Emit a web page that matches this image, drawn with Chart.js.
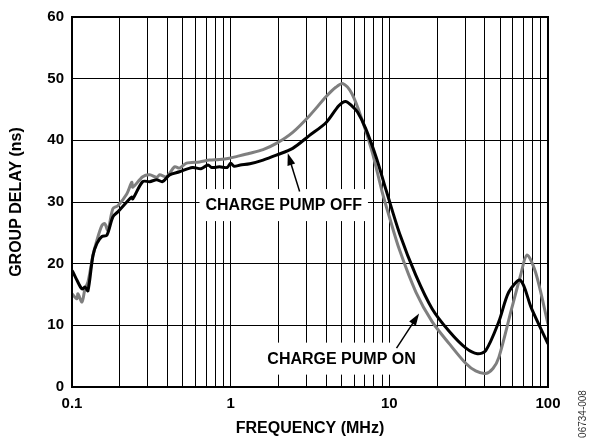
<!DOCTYPE html>
<html>
<head>
<meta charset="utf-8">
<script src="https://cdn.jsdelivr.net/npm/chart.js@4.4.0/dist/chart.umd.min.js"></script>
<style>
  html, body { margin: 0; padding: 0; background: #fff; }
  #wrap { width: 598px; height: 443px; position: relative; }
</style>
</head>
<body>
<div id="wrap"><canvas id="delayChart"></canvas></div>
<script>
// charge pump off (black trace)
var offFreq = [0.1, 0.1015, 0.1075, 0.1156, 0.121, 0.126, 0.1355, 0.1436, 0.1544, 0.1658, 0.181, 0.1945, 0.2214, 0.238, 0.2416, 0.279, 0.309, 0.342, 0.372, 0.412, 0.476, 0.575, 0.65, 0.72, 0.76, 0.85, 0.95, 1.0, 1.05, 1.15, 1.32, 1.6, 1.94, 2.46, 3.14, 4.0, 4.8, 5.3, 5.8, 6.3, 7.1, 8.3, 9.6, 11.6, 14.7, 18.6, 23.9, 30.4, 35.9, 40.5, 49, 56.6, 67, 78.8, 100];
var offDelay = [18.9, 18.6, 17.3, 15.9, 16.2, 15.6, 21.3, 23.3, 24.4, 24.6, 27.6, 28.4, 30.0, 30.8, 30.5, 33.3, 33.3, 33.6, 33.3, 34.4, 34.9, 35.6, 35.4, 36.0, 35.6, 35.7, 35.6, 36.3, 35.8, 36.0, 36.2, 36.8, 37.6, 38.7, 40.8, 42.9, 45.6, 46.3, 45.6, 44.6, 41.9, 37.1, 31.7, 24.9, 18.1, 12.7, 9.0, 6.3, 5.4, 5.9, 10.6, 15.4, 17.3, 12.7, 7.0];

// charge pump on (gray trace)
var onFreq = [0.1, 0.1075, 0.109, 0.1156, 0.1207, 0.126, 0.1355, 0.1436, 0.1544, 0.161, 0.1684, 0.181, 0.1945, 0.2214, 0.238, 0.2416, 0.279, 0.309, 0.342, 0.357, 0.395, 0.443, 0.476, 0.527, 0.636, 0.737, 0.85, 0.98, 1.1, 1.32, 1.6, 1.94, 2.46, 3.14, 4.0, 4.6, 5.1, 5.8, 6.7, 7.8, 9.0, 10.0, 11.6, 14.7, 18.6, 23.9, 30.4, 35, 40.5, 45, 49, 59, 67, 73.7, 83.5, 100];
var onDelay = [15.1, 14.3, 15.1, 13.8, 15.9, 17.0, 21.3, 23.8, 26.2, 26.5, 25.4, 28.9, 29.4, 31.3, 33.2, 32.4, 34.1, 34.4, 34.0, 34.4, 34.1, 35.7, 35.5, 36.3, 36.5, 36.8, 36.9, 37.1, 37.4, 37.9, 38.5, 39.5, 41.3, 44.0, 47.1, 48.6, 49.2, 47.6, 43.5, 38.1, 31.7, 27.6, 22.2, 15.4, 10.6, 7.0, 3.8, 2.6, 2.2, 3.0, 4.8, 12.7, 18.0, 21.4, 18.6, 10.2];

var xGrid = [0.1, 0.2, 0.3, 0.4, 0.5, 0.6, 0.7, 0.8, 0.9, 1, 2, 3, 4, 5, 6, 7, 8, 9, 10, 20, 30, 40, 50, 60, 70, 80, 90, 100];
var xLabels = [0.1, 1, 10, 100];

// annotation labels: [text, freq, delay]
var notes = [
  ['CHARGE PUMP OFF', 2.16, 29.5],
  ['CHARGE PUMP ON', 5.0, 4.6]
];
// arrows: [fromFreq, fromDelay, toFreq, toDelay]
var arrows = [
  [2.72, 31.7, 2.29, 37.9],
  [11.1, 6.3, 15.4, 11.9]
];

var FONT = 'Arial, "Liberation Sans", sans-serif';

function toPoints(xs, ys) {
  return xs.map((x, i) => ({ x: x, y: ys[i] }));
}

var notesPlugin = {
  id: 'notes',
  beforeDatasetsDraw: function (chart) {
    var ctx = chart.ctx, xs = chart.scales.x, ys = chart.scales.y;
    ctx.save();
    ctx.font = 'bold 16px ' + FONT;
    ctx.textAlign = 'center';
    ctx.textBaseline = 'middle';
    notes.forEach(n => {
      var px = xs.getPixelForValue(n[1]), py = ys.getPixelForValue(n[2]);
      var w = ctx.measureText(n[0]).width + 12;
      ctx.fillStyle = '#fff';
      ctx.fillRect(px - w / 2, py - 16, w, 32);
      ctx.fillStyle = '#000';
      ctx.fillText(n[0], px, py + 1);
    });
    ctx.restore();
  },
  afterDatasetsDraw: function (chart) {
    var ctx = chart.ctx, xs = chart.scales.x, ys = chart.scales.y;
    var a = chart.chartArea;
    ctx.save();
    ctx.strokeStyle = '#000';
    ctx.fillStyle = '#000';
    ctx.lineWidth = 1.5;
    arrows.forEach(r => {
      var x1 = xs.getPixelForValue(r[0]), y1 = ys.getPixelForValue(r[1]);
      var x2 = xs.getPixelForValue(r[2]), y2 = ys.getPixelForValue(r[3]);
      var ang = Math.atan2(y2 - y1, x2 - x1);
      ctx.beginPath();
      ctx.moveTo(x1, y1);
      ctx.lineTo(x2 - 8 * Math.cos(ang), y2 - 8 * Math.sin(ang));
      ctx.stroke();
      ctx.beginPath();
      ctx.moveTo(x2, y2);
      ctx.lineTo(x2 - 12 * Math.cos(ang) + 4 * Math.sin(ang), y2 - 12 * Math.sin(ang) - 4 * Math.cos(ang));
      ctx.lineTo(x2 - 12 * Math.cos(ang) - 4 * Math.sin(ang), y2 - 12 * Math.sin(ang) + 4 * Math.cos(ang));
      ctx.closePath();
      ctx.fill();
    });
    // frame
    ctx.lineWidth = 2;
    ctx.strokeRect(a.left, a.top, a.right - a.left, a.bottom - a.top);
    // figure code
    ctx.translate(583, 414);
    ctx.rotate(-Math.PI / 2);
    ctx.font = '10px ' + FONT;
    ctx.fillStyle = '#333';
    ctx.textAlign = 'center';
    ctx.textBaseline = 'middle';
    ctx.fillText('06734-008', 0, 0);
    ctx.restore();
  }
};

var ctx = document.getElementById('delayChart').getContext('2d');
var chart = new Chart(ctx, {
  type: 'line',
  data: {
    datasets: [{
      label: 'Charge Pump Off',
      data: toPoints(offFreq, offDelay),
      borderColor: '#000',
      borderWidth: 3,
      pointRadius: 0,
      tension: 0.3,
      fill: false
    }, {
      label: 'Charge Pump On',
      data: toPoints(onFreq, onDelay),
      borderColor: '#7f7f7f',
      borderWidth: 3,
      pointRadius: 0,
      tension: 0.3,
      fill: false
    }]
  },
  options: {
    responsive: true,
    maintainAspectRatio: false,
    animation: false,
    layout: { padding: { top: 9, right: 50, left: 0, bottom: 0 } },
    plugins: {
      legend: { display: false },
      tooltip: { enabled: false }
    },
    scales: {
      x: {
        type: 'logarithmic',
        min: 0.1,
        max: 100,
        afterBuildTicks: function (scale) {
          scale.ticks = xGrid.map(v => ({ value: v }));
        },
        afterFit: function (scale) { scale.height = 56; },
        grid: { color: '#000', lineWidth: 1, drawTicks: false },
        border: { color: '#000', width: 2 },
        ticks: {
          autoSkip: false,
          maxRotation: 0,
          padding: 8,
          color: '#000',
          font: { family: FONT, size: 15, weight: 'bold' },
          callback: function (v) { return xLabels.indexOf(v) >= 0 ? String(v) : ''; }
        },
        title: {
          display: true,
          text: 'FREQUENCY (MHz)',
          color: '#000',
          font: { family: FONT, size: 16, weight: 'bold' },
          padding: { top: 4, bottom: 5 }
        }
      },
      y: {
        min: 0,
        max: 60,
        afterFit: function (scale) { scale.width = 72; },
        grid: { color: '#000', lineWidth: 1, drawTicks: false },
        border: { color: '#000', width: 2 },
        ticks: {
          stepSize: 10,
          padding: 8,
          color: '#000',
          font: { family: FONT, size: 15, weight: 'bold' }
        },
        title: {
          display: true,
          text: 'GROUP DELAY (ns)',
          color: '#000',
          font: { family: FONT, size: 16, weight: 'bold' },
          padding: { top: 7, bottom: 0 }
        }
      }
    }
  },
  plugins: [notesPlugin]
});
</script>
</body>
</html>
